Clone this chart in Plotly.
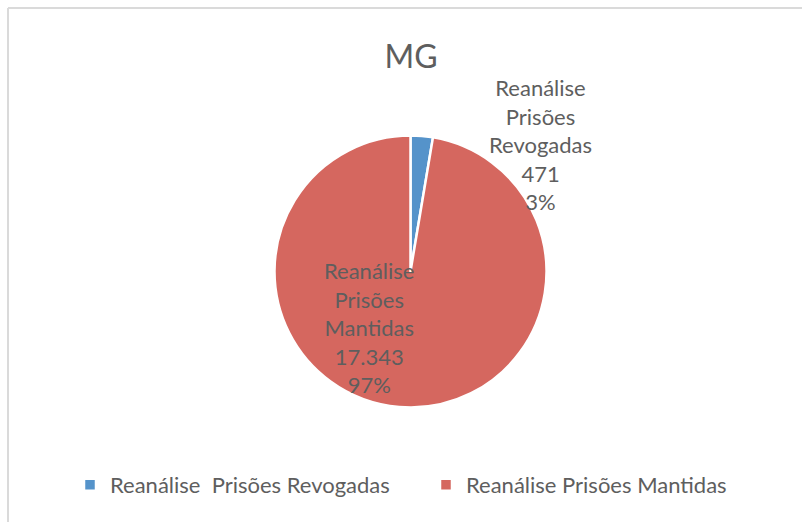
import plotly.graph_objects as go

# Reanálise de prisões em MG
categorias = ["Reanálise  Prisões Revogadas", "Reanálise Prisões Mantidas"]
rotulos = ["Reanálise<br>Prisões<br>Revogadas", "Reanálise<br>Prisões<br>Mantidas"]
valores = [471, 17343]
cores = ["#5593CA", "#D5675F"]

W, H = 802, 522
TXT = "#5E5E5E"
FONTE = "Lato, 'Open Sans', sans-serif"

# pie geometry in pixels (centre and radius)
cx, cy, r = 410.5, 271.5, 136

total = sum(valores)


def fmt(v):
    return f"{v:,}".replace(",", ".")


fig = go.Figure(go.Pie(
    labels=categorias,
    values=valores,
    sort=False,
    direction="clockwise",
    rotation=0,
    marker=dict(colors=cores, line=dict(color="white", width=2.5)),
    textinfo="none",
    hoverinfo="label+value+percent",
    domain=dict(x=[(cx - r) / W, (cx + r) / W],
                y=[(H - cy - r) / H, (H - cy + r) / H]),
))

# data labels, positioned next to / inside each slice
pos_rotulos = [(540, 144), (369, 327)]
anns = []
for rot, v, (px, py) in zip(rotulos, valores, pos_rotulos):
    pct = round(100 * v / total)
    anns.append(dict(
        x=px / W, y=1 - py / H, xref="paper", yref="paper",
        text=f"{rot}<br>{fmt(v)}<br>{pct}%",
        showarrow=False, xanchor="center", yanchor="middle",
        font=dict(size=22, color=TXT, family=FONTE),
    ))

fig.update_layout(
    width=W, height=H,
    margin=dict(l=0, r=0, t=0, b=0),
    paper_bgcolor="white",
    plot_bgcolor="white",
    font=dict(family=FONTE, color=TXT),
    title=dict(text="MG", x=411 / W, xanchor="center", y=1 - 57 / H, yanchor="middle",
               font=dict(size=32, color=TXT, family=FONTE)),
    annotations=anns,
    showlegend=True,
    legend=dict(
        orientation="h",
        x=70 / W, xanchor="left",
        y=37 / H, yanchor="middle",
        font=dict(size=22, color=TXT, family=FONTE),
        entrywidth=311, entrywidthmode="pixels",
        itemwidth=30,
        traceorder="normal",
    ),
    shapes=[
        dict(type="line", xref="paper", yref="paper",
             x0=8 / W, x1=1.0, y0=1 - 8 / H, y1=1 - 8 / H,
             line=dict(color="#DADADA", width=2)),
        dict(type="line", xref="paper", yref="paper",
             x0=8 / W, x1=8 / W, y0=0, y1=1 - 8 / H,
             line=dict(color="#DADADA", width=2)),
    ],
)

fig.write_html("out.html")
